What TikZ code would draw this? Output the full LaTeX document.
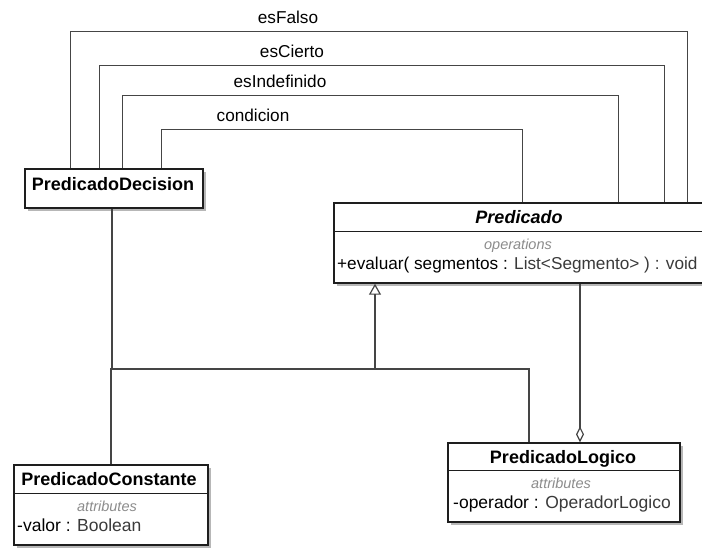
\documentclass[tikz,border=0pt]{standalone}
\usepackage{fontspec}
\setmainfont{Liberation Sans}
\usetikzlibrary{arrows.meta,calc,shadows}
\definecolor{edge}{HTML}{454545}
\definecolor{frame}{HTML}{1E1E1E}
\definecolor{typetext}{HTML}{3A3A3A}
\definecolor{stereo}{HTML}{8C8C8C}
\tikzset{
  umlclass/.style={draw=frame, line width=1.4pt, fill=white, rectangle, inner sep=0pt,
    drop shadow={shadow xshift=3pt, shadow yshift=-3pt, fill=black!40, opacity=0.7}},
  divider/.style={draw=frame, line width=1.2pt},
  conn/.style={draw=edge, line width=1.2pt},
  classname/.style={font=\fontsize{18}{21}\selectfont\bfseries, anchor=base, inner sep=0pt},
  compartment/.style={font=\fontsize{14.5}{17}\selectfont\itshape, text=stereo, anchor=base, inner sep=0pt},
  member/.style={font=\fontsize{17.5}{20}\selectfont, anchor=base west, inner sep=0pt},
  rolename/.style={font=\fontsize{17.2}{20}\selectfont, anchor=base, inner sep=0pt},
  gen/.style={-{Triangle[open, length=11pt, width=12pt]}},
  agg/.style={{Diamond[open, length=16pt, width=8pt]}-}
}
\begin{document}
\begin{tikzpicture}[x=1pt, y=-1pt]
\useasboundingbox (0,0) rectangle (702,547);
\clip (0,0) rectangle (702,547);

% classes
\node[umlclass, minimum width=178pt, minimum height=39pt] (dec) at (114,188.5) {};
\node[classname] (decname) at (113,190) {PredicadoDecision};

\node[umlclass, minimum width=372pt, minimum height=80pt] (pred) at (520,243) {};
\draw[divider] ($(pred.north west)+(0,29)$) -- ($(pred.north east)+(0,29)$);
\node[classname, font=\fontsize{18}{21}\selectfont\bfseries\itshape] (predname) at (519,223) {Predicado};
\node[compartment] (predops) at (518,249) {operations};
\node[member, font=\fontsize{17.2}{20}\selectfont] (predop) at (337,269) {+evaluar( segmentos : \textcolor{typetext}{List<Segmento> ) : void}};

\node[umlclass, minimum width=194pt, minimum height=80pt] (const) at (111,505) {};
\draw[divider] ($(const.north west)+(0,29)$) -- ($(const.north east)+(0,29)$);
\node[classname] (constname) at (109,485) {PredicadoConstante};
\node[compartment] (constattr) at (107,511) {attributes};
\node[member] (constval) at (17,531) {-valor : \textcolor{typetext}{Boolean}};

\node[umlclass, minimum width=232pt, minimum height=79pt] (log) at (564,482.5) {};
\draw[divider] ($(log.north west)+(0,28)$) -- ($(log.north east)+(0,28)$);
\node[classname] (logname) at (563,463) {PredicadoLogico};
\node[compartment] (logattr) at (561,488) {attributes};
\node[member] (logop) at (453,508) {-operador : \textcolor{typetext}{OperadorLogico}};

% associations from PredicadoDecision to Predicado
\draw[conn] ([xshift=46pt]dec.north west) -- ++(0,-137) -| ([xshift=354pt]pred.north west);
\draw[conn] ([xshift=75pt]dec.north west) -- ++(0,-103) -| ([xshift=331pt]pred.north west);
\draw[conn] ([xshift=98pt]dec.north west) -- ++(0,-73) -| ([xshift=285pt]pred.north west);
\draw[conn] ([xshift=137pt]dec.north west) -- ++(0,-39) -| ([xshift=189pt]pred.north west);
\node[rolename] (lfalso) at (288,23) {esFalso};
\node[rolename] (lcierto) at (292,57) {esCierto};
\node[rolename] (lindef) at (280,87) {esIndefinido};
\node[rolename] (lcond) at (253,121) {condicion};

% generalization tree
\coordinate (tree) at (375,369);
\draw[conn, gen] (tree) -- ([xshift=-145pt]pred.south);
\draw[conn] ([xshift=-2pt]dec.south) |- (tree);
\draw[conn] (const.north) |- (tree);
\draw[conn] ([xshift=-35pt]log.north) |- (tree);

% aggregation
\draw[conn, agg] ([xshift=16pt]log.north) -- ([xshift=60pt]pred.south);
\end{tikzpicture}
\end{document}
